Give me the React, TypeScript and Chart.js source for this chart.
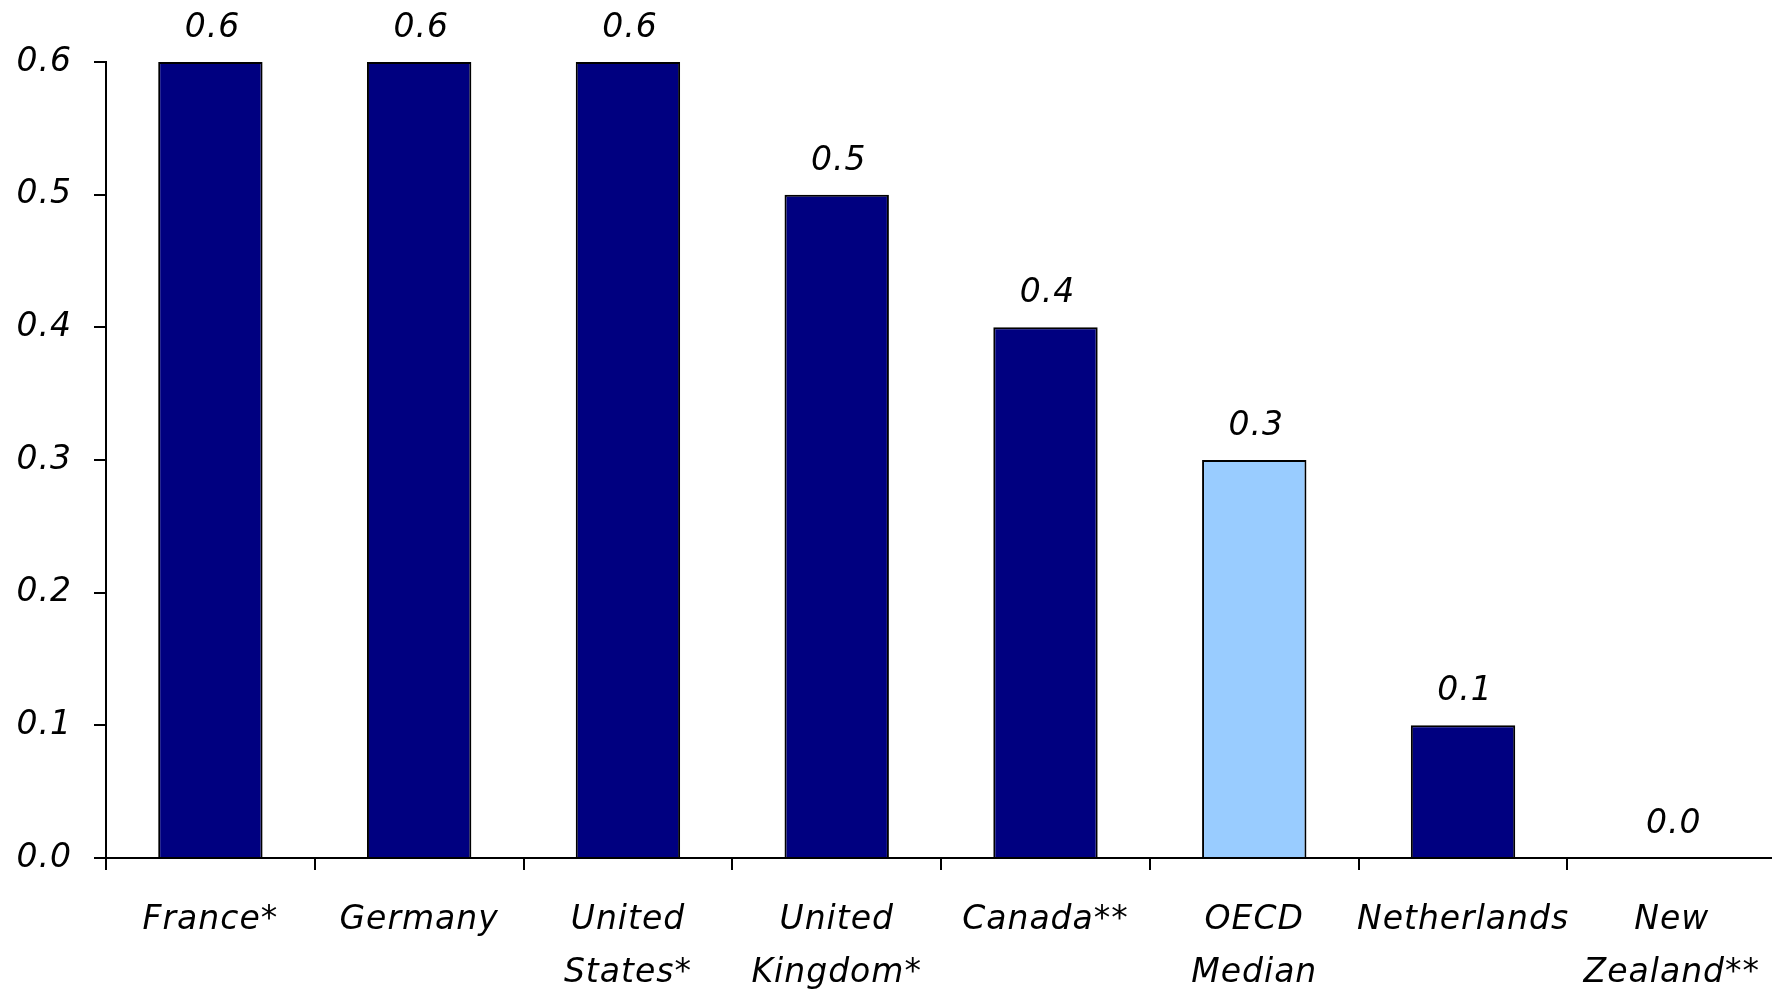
import React, { useEffect, useRef } from "react";
import { Chart, registerables } from "chart.js";

Chart.register(...registerables);

const categories: string[][] = [
  ["France*"],
  ["Germany"],
  ["United", "States*"],
  ["United", "Kingdom*"],
  ["Canada**"],
  ["OECD", "Median"],
  ["Netherlands"],
  ["New", "Zealand**"],
];
const values: number[] = [0.6, 0.6, 0.6, 0.5, 0.4, 0.3, 0.1, 0.0];
const highlighted: boolean[] = [false, false, false, false, false, true, false, false];
const yTicks = { min: 0, max: 0.6, step: 0.1 };

const NAVY = "#000080";
const LIGHT = "#99CCFF";
const FONT_FAMILY = '"DejaVu Sans", Verdana, sans-serif';
const FONT_SIZE = 33;
const LETTER_SPACING = "1px";

const spacingPlugin = {
  id: "letterSpacing",
  beforeUpdate(chart: any) {
    (chart.ctx as any).letterSpacing = LETTER_SPACING;
  },
  beforeDraw(chart: any) {
    (chart.ctx as any).letterSpacing = LETTER_SPACING;
  },
};

const valueLabelPlugin = {
  id: "valueLabels",
  afterDatasetsDraw(chart: any) {
    const ctx = chart.ctx;
    const meta = chart.getDatasetMeta(0);
    ctx.save();
    (ctx as any).letterSpacing = LETTER_SPACING;
    ctx.font = `italic ${FONT_SIZE}px ${FONT_FAMILY}`;
    ctx.fillStyle = "#000";
    ctx.textAlign = "center";
    ctx.textBaseline = "alphabetic";
    meta.data.forEach((bar: any, i: number) => {
      ctx.fillText(values[i].toFixed(1), bar.x + 2, bar.y - 25);
    });
    ctx.restore();
  },
};

export default function App() {
  const canvasRef = useRef<HTMLCanvasElement | null>(null);

  useEffect(() => {
    const canvas = canvasRef.current;
    if (!canvas) return;
    const chart = new Chart(canvas, {
      type: "bar",
      data: {
        labels: categories,
        datasets: [
          {
            data: values,
            backgroundColor: highlighted.map((h) => (h ? LIGHT : NAVY)),
            borderColor: "#000",
            borderWidth: 2,
            barPercentage: 0.5,
            categoryPercentage: 1.0,
          },
        ],
      },
      options: {
        responsive: false,
        animation: false,
        devicePixelRatio: 1,
        layout: { padding: { top: 62, left: 0, right: 0, bottom: 0 } },
        plugins: {
          legend: { display: false },
          tooltip: { enabled: false },
          title: { display: false },
        },
        scales: {
          x: {
            offset: true,
            grid: {
              offset: true,
              drawOnChartArea: false,
              drawTicks: true,
              tickLength: 12,
              color: "#000",
              lineWidth: 2,
            },
            border: { display: true, color: "#000", width: 2 },
            ticks: {
              color: "#000",
              padding: 24,
              maxRotation: 0,
              minRotation: 0,
              autoSkip: false,
              font: { family: FONT_FAMILY, size: FONT_SIZE, style: "italic", lineHeight: 1.6 },
            },
            afterFit(scale: any) {
              scale.height = 131;
            },
          },
          y: {
            min: yTicks.min,
            max: yTicks.max,
            grid: {
              drawOnChartArea: false,
              drawTicks: true,
              tickLength: 12,
              color: "#000",
              lineWidth: 2,
            },
            border: { display: true, color: "#000", width: 2 },
            ticks: {
              stepSize: yTicks.step,
              color: "#000",
              padding: 22,
              font: { family: FONT_FAMILY, size: FONT_SIZE, style: "italic" },
              callback: (v: any) => Number(v).toFixed(1),
            },
            afterFit(scale: any) {
              scale.width = 106;
            },
          },
        },
      },
      plugins: [spacingPlugin, valueLabelPlugin],
    });
    return () => chart.destroy();
  }, []);

  return (
    <div style={{ position: "absolute", left: 0, top: 0, width: 1772, height: 989, background: "#fff", overflow: "hidden" }}>
      <canvas ref={canvasRef} width={1784} height={989} style={{ display: "block" }} />
    </div>
  );
}
